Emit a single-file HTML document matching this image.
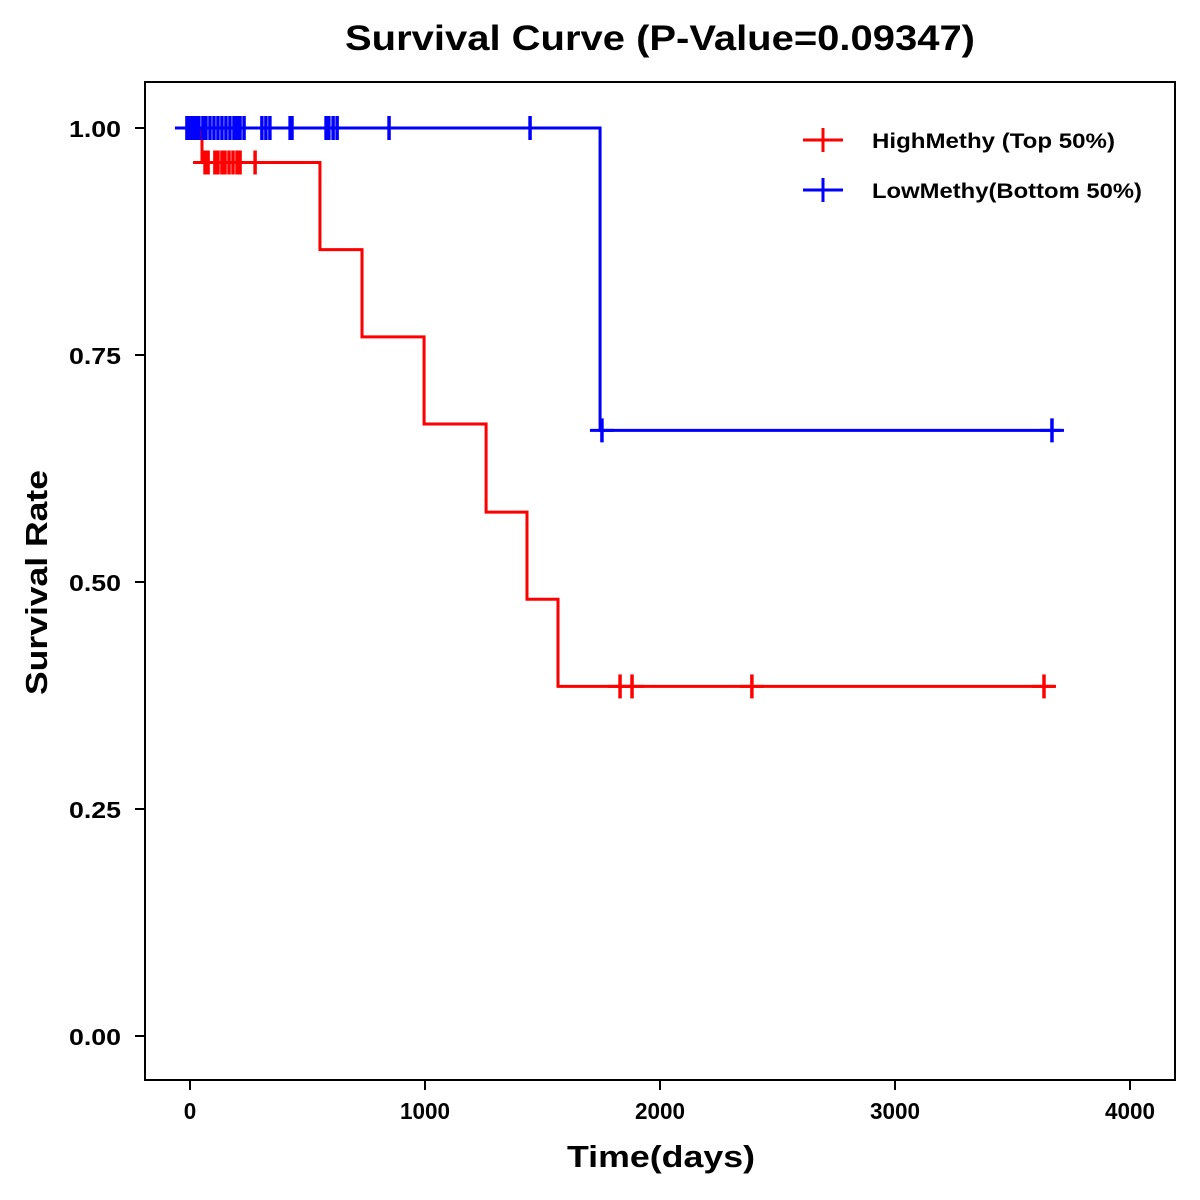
<!DOCTYPE html>
<html><head><meta charset="utf-8"><style>
html,body{margin:0;padding:0;background:#fff}
svg{display:block}
text{font-family:"Liberation Sans",Arial,sans-serif;font-weight:bold;fill:#000}
</style></head><body>
<svg id="chart" width="1200" height="1200" xmlns="http://www.w3.org/2000/svg">
<text x="345" y="50" font-size="35" textLength="630" lengthAdjust="spacingAndGlyphs">Survival Curve (P-Value=0.09347)</text>
<rect x="145" y="82" width="1030" height="998" fill="none" stroke="#000" stroke-width="2"/>
<text x="567" y="1167" font-size="31" textLength="188" lengthAdjust="spacingAndGlyphs">Time(days)</text>
<text transform="translate(47,695) rotate(-90)" font-size="31" textLength="225" lengthAdjust="spacingAndGlyphs">Survival Rate</text>
<g id="axes"></g>
<g id="series"></g>
<g id="legend">
<line x1="803" y1="140" x2="843" y2="140" stroke="#f00" stroke-width="3"/>
<line x1="823" y1="128" x2="823" y2="152" stroke="#f00" stroke-width="3"/>
<text x="872" y="148" font-size="21" textLength="243" lengthAdjust="spacingAndGlyphs">HighMethy (Top 50%)</text>
<line x1="803" y1="190" x2="843" y2="190" stroke="#00f" stroke-width="3"/>
<line x1="823" y1="178" x2="823" y2="202" stroke="#00f" stroke-width="3"/>
<text x="872" y="198" font-size="21" textLength="270" lengthAdjust="spacingAndGlyphs">LowMethy(Bottom 50%)</text>
</g>
</svg>
<script>
const xTicks = [0, 1000, 2000, 3000, 4000];
const yTicks = [0, 0.25, 0.5, 0.75, 1.0];
const yTickLabels = ["0.00", "0.25", "0.50", "0.75", "1.00"];
const highTimes = [0, 51, 553, 732, 996, 1260, 1434, 1566, 3680];
const highSurv = [1.0, 0.962, 0.866, 0.770, 0.674, 0.577, 0.481, 0.385, 0.385];
const highCensor = [64, 77, 106, 119, 136, 149, 166, 183, 200, 213, 277, 1830, 1881, 2391, 3634];
const lowTimes = [-55, 1745, 3706];
const lowSurv = [1.0, 0.667, 0.667];
const lowCensor = [-13, 0, 13, 26, 38, 55, 68, 85, 102, 119, 136, 153, 170, 187, 200, 213, 230, 306, 323, 340, 426, 434, 579, 591, 609, 626, 847, 1447, 1753, 3668];

const NS = "http://www.w3.org/2000/svg";
const X = d => 190 + d * 0.235;
const Y = v => 1036 - v * 908;
function el(tag, attrs, parent) {
  const e = document.createElementNS(NS, tag);
  for (const k in attrs) e.setAttribute(k, attrs[k]);
  parent.appendChild(e);
  return e;
}
const axes = document.getElementById("axes");
xTicks.forEach(t => {
  const l = el("line", {x1: X(t), x2: X(t), y1: 1080, y2: 1090, stroke: "#000", "stroke-width": 2}, axes);
  
  
  const s = String(t);
  const tx = el("text", {x: X(t), y: 1119, "font-size": 23, "text-anchor": "middle", textLength: s.length * 12.5, lengthAdjust: "spacingAndGlyphs"}, axes);
  tx.textContent = s;
  
  
});
yTicks.forEach((t, i) => {
  const l = el("line", {x1: 135, x2: 145, y1: Y(t), y2: Y(t), stroke: "#000", "stroke-width": 2}, axes);
  
  
  const tx = el("text", {x: 121, y: Y(t) + 9, "font-size": 23, "text-anchor": "end", textLength: 52, lengthAdjust: "spacingAndGlyphs"}, axes);
  tx.textContent = yTickLabels[i];
  
  
});
const series = document.getElementById("series");
function drawSeries(times, surv, cens, color, name) {
  let d = "M" + X(times[0]) + "," + Y(surv[0]);
  for (let i = 1; i < times.length; i++) {
    d += " H" + X(times[i]) + " V" + Y(surv[i]);
  }
  const p = el("path", {d: d, fill: "none", stroke: color, "stroke-width": 3}, series);
  
  
  cens.forEach(c => {
    let s = surv[0];
    for (let i = 0; i < times.length; i++) if (times[i] <= c) s = surv[i];
    const g = el("g", {}, series);
    
    
    el("line", {x1: X(c), x2: X(c), y1: Y(s) - 12, y2: Y(s) + 12, stroke: color, "stroke-width": 3.5}, g);
    el("line", {x1: X(c) - 12, x2: X(c) + 12, y1: Y(s), y2: Y(s), stroke: color, "stroke-width": 3}, g);
  });
}
drawSeries(highTimes, highSurv, highCensor, "#f00", "high-methy");
drawSeries(lowTimes, lowSurv, lowCensor, "#00f", "low-methy");
</script>
</body></html>
